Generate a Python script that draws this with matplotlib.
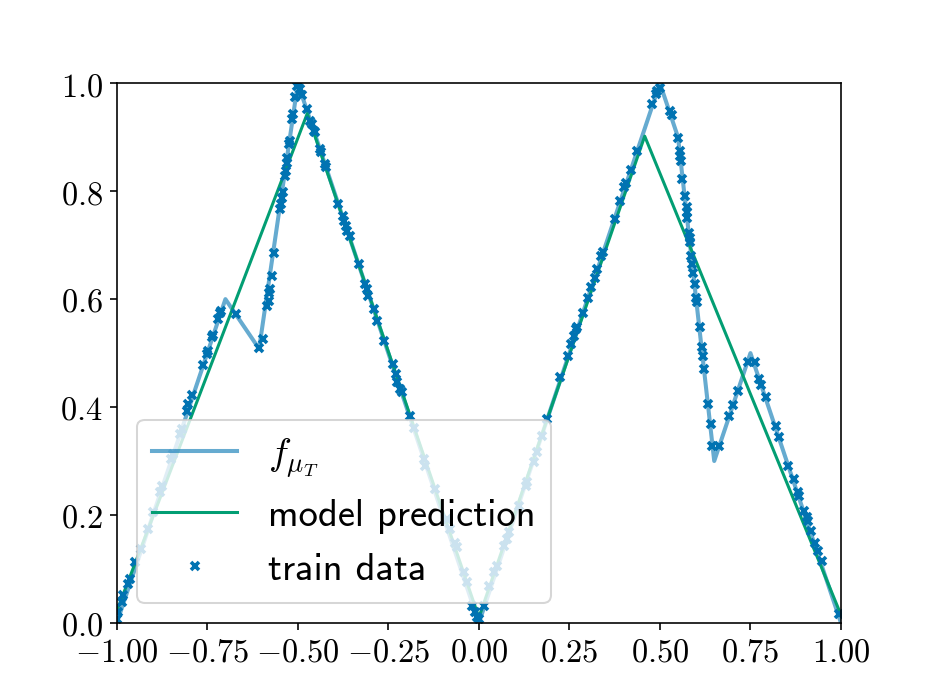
import matplotlib
matplotlib.use('Agg')
import matplotlib.pyplot as plt

plt.rcParams['mathtext.fontset'] = 'cm'

# target function f_mu_T (polyline vertices)
f_x = [-1.0, -0.70, -0.607, -0.5, 0.0, 0.5, 0.55, 0.65, 0.75, 1.0]
f_y = [0.0, 0.60, 0.508, 1.0, 0.0, 1.0, 0.90, 0.30, 0.50, 0.0]

# model prediction
pred_x = [-1.0, -0.474, 0.0, 0.458, 1.0]
pred_y = [0.022, 0.944, 0.010, 0.902, 0.015]

# train data
train_x = [-1.0, -0.996, -0.987, -0.982, -0.969, -0.964, -0.950, -0.932, -0.913, -0.899,
           -0.881, -0.876, -0.849, -0.844, -0.826, -0.821, -0.807, -0.803, -0.793,
           -0.763, -0.752, -0.749, -0.738, -0.735, -0.720, -0.715, -0.712,
           -0.671, -0.607, -0.595, -0.584, -0.581, -0.579, -0.577, -0.572, -0.566,
           -0.549, -0.547, -0.544, -0.542, -0.535, -0.533, -0.531, -0.529, -0.524, -0.522,
           -0.517, -0.514, -0.508, -0.501, -0.497, -0.494, -0.489, -0.475, -0.466, -0.461,
           -0.455, -0.452, -0.440, -0.437, -0.425, -0.422, -0.388, -0.376, -0.372, -0.367,
           -0.363, -0.357, -0.332, -0.314, -0.309, -0.305, -0.291, -0.282, -0.261,
           -0.237, -0.228, -0.226, -0.217, -0.212, -0.189, -0.180, -0.152, -0.148,
           -0.120, -0.088, -0.079, -0.065, -0.060, -0.042, -0.033, -0.019, -0.010,
           -0.005, -0.001, 0.013, 0.027, 0.041, 0.050, 0.069, 0.078, 0.082, 0.110,
           0.129, 0.133, 0.152, 0.161, 0.175, 0.189, 0.225, 0.246, 0.255, 0.264,
           0.269, 0.272, 0.287, 0.301, 0.310, 0.320, 0.325, 0.338, 0.344, 0.375,
           0.391, 0.402, 0.407, 0.420, 0.436, 0.479, 0.488, 0.493, 0.500, 0.528,
           0.532, 0.550, 0.555, 0.556, 0.558, 0.562, 0.569, 0.574, 0.575, 0.576,
           0.580, 0.582, 0.583, 0.587, 0.589, 0.592, 0.597, 0.601, 0.603, 0.610,
           0.615, 0.618, 0.622, 0.634, 0.640, 0.645, 0.663, 0.691, 0.703, 0.716,
           0.742, 0.762, 0.774, 0.780, 0.794, 0.820, 0.829, 0.855, 0.871, 0.880,
           0.885, 0.898, 0.905, 0.909, 0.917, 0.929, 0.937, 0.947, 0.994]
train_y = [0.007, 0.020, 0.038, 0.051, 0.072, 0.081, 0.112, 0.137, 0.174, 0.205,
           0.242, 0.254, 0.304, 0.313, 0.350, 0.359, 0.393, 0.406, 0.422,
           0.478, 0.498, 0.504, 0.529, 0.533, 0.563, 0.575, 0.578,
           0.572, 0.509, 0.526, 0.588, 0.597, 0.612, 0.619, 0.643, 0.686,
           0.767, 0.776, 0.788, 0.798, 0.828, 0.838, 0.853, 0.862, 0.887, 0.893,
           0.933, 0.943, 0.974, 0.995, 1.0, 0.989, 0.979, 0.953, 0.930, 0.924,
           0.912, 0.909, 0.878, 0.873, 0.850, 0.844, 0.776, 0.754, 0.745, 0.736,
           0.727, 0.717, 0.665, 0.628, 0.619, 0.606, 0.581, 0.560, 0.523,
           0.480, 0.461, 0.446, 0.433, 0.427, 0.384, 0.362, 0.304, 0.291,
           0.248, 0.193, 0.174, 0.149, 0.140, 0.094, 0.075, 0.032, 0.020,
           0.011, 0.007, 0.032, 0.069, 0.094, 0.106, 0.143, 0.156, 0.168, 0.217,
           0.254, 0.261, 0.298, 0.316, 0.347, 0.378, 0.455, 0.495, 0.517, 0.532,
           0.544, 0.549, 0.575, 0.603, 0.622, 0.640, 0.656, 0.680, 0.688, 0.748,
           0.782, 0.807, 0.816, 0.839, 0.875, 0.961, 0.980, 0.986, 0.992, 0.949,
           0.941, 0.899, 0.875, 0.865, 0.856, 0.823, 0.791, 0.770, 0.761, 0.751,
           0.723, 0.714, 0.705, 0.680, 0.665, 0.649, 0.628, 0.603, 0.594, 0.548,
           0.511, 0.495, 0.470, 0.406, 0.369, 0.327, 0.327, 0.383, 0.404, 0.430,
           0.484, 0.484, 0.452, 0.440, 0.418, 0.364, 0.345, 0.291, 0.267, 0.242,
           0.235, 0.208, 0.196, 0.189, 0.171, 0.148, 0.133, 0.115, 0.017]

xticks = [-1.0, -0.75, -0.5, -0.25, 0.0, 0.25, 0.5, 0.75, 1.0]
xtick_labels = ['-1.00', '-0.75', '-0.50', '-0.25', '0.00', '0.25', '0.50', '0.75', '1.00']
yticks = [0.0, 0.2, 0.4, 0.6, 0.8, 1.0]
ytick_labels = ['0.0', '0.2', '0.4', '0.6', '0.8', '1.0']

blue = '#0173B2'
green = '#029E73'

fig, ax = plt.subplots(figsize=(6.4, 4.8), dpi=146)

ax.plot(f_x, f_y, color=blue, alpha=0.6, lw=2, label=r'$f_{\mu_T}$')
ax.plot(pred_x, pred_y, color=green, lw=1.5, label='model prediction')
ax.plot(train_x, train_y, 'x', color=blue, ms=3.5, mew=1.8, label='train data')

ax.set_xlim(-1, 1)
ax.set_ylim(0, 1)
ax.set_xticks(xticks, labels=['$' + s + '$' for s in xtick_labels])
ax.set_yticks(yticks, labels=['$' + s + '$' for s in ytick_labels])
ax.tick_params(labelsize=16)

ax.legend(loc='lower left', prop={'family': 'cmss10', 'size': 19},
          handlelength=2.2, borderaxespad=0.52)

fig.savefig('out.png', dpi=146)
